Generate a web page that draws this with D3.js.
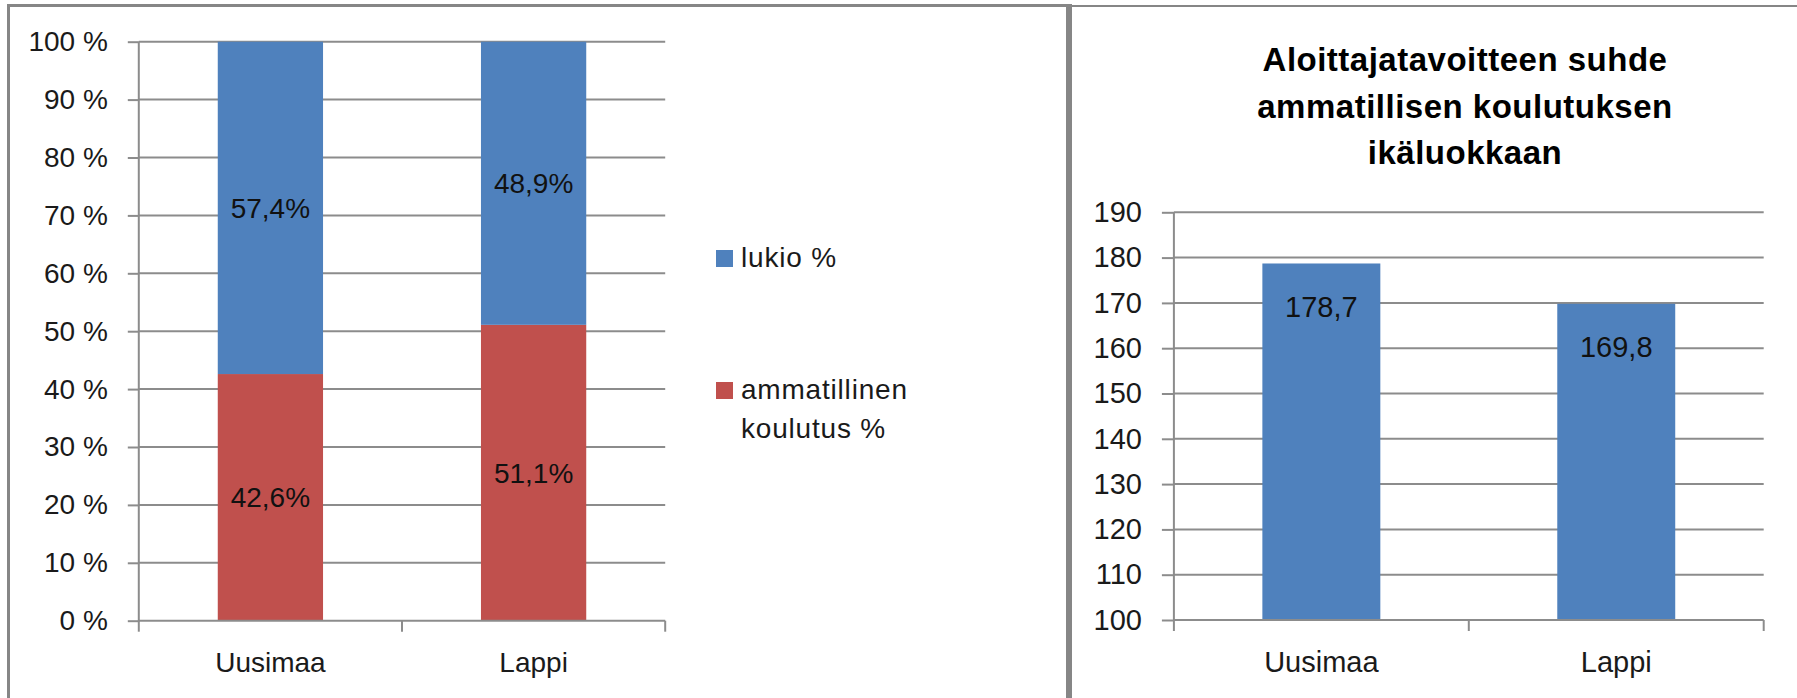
<!DOCTYPE html>
<html lang="fi">
<head>
<meta charset="utf-8">
<script src="https://cdn.jsdelivr.net/npm/d3@7"></script>
<style>
    body { margin: 0; background: #fff; }
    svg { font-family: "Liberation Sans", Arial, sans-serif; }
    .axis text { fill: #1a1a1a; }
    .axis path, .axis line { stroke: #8c8c8c; stroke-width: 2; }
</style>
</head>
<body>
<script>
    // data
    const regions = ["Uusimaa", "Lappi"];
    const lukio = [57.4, 48.9];
    const ammatillinen = [42.6, 51.1];
    const pctTicks = [0, 10, 20, 30, 40, 50, 60, 70, 80, 90, 100];
    const legendLabels = ["lukio %", "ammatillinen", "koulutus %"];

    const aloittajat = [178.7, 169.8];
    const ratioTicks = [100, 110, 120, 130, 140, 150, 160, 170, 180, 190];
    const titleLines = ["Aloittajatavoitteen suhde", "ammatillisen koulutuksen", "ikäluokkaan"];

    const blue = "#4f81bd";
    const red = "#c0504d";
    const grid = "#8c8c8c";
    const frame = "#868686";

    let w = 1797, h = 698;
    let svg = d3.select("body").append("svg")
        .attr("width", w)
        .attr("height", h);

    // panel frames
    svg.append("rect").attr("x", 7).attr("y", 4).attr("width", 1063).attr("height", 3).attr("fill", frame);
    svg.append("rect").attr("x", 7).attr("y", 4).attr("width", 3).attr("height", h).attr("fill", frame);
    svg.append("rect").attr("x", 1066).attr("y", 4).attr("width", 6).attr("height", h).attr("fill", frame);
    svg.append("rect").attr("x", 1072).attr("y", 5).attr("width", w - 1072).attr("height", 2).attr("fill", frame);

    function fmt(v) { return v.toFixed(1).replace(".", ","); }

    function boundTicks(g, a, b) {
        g.selectAll(".bound")
            .data([a, (a + b) / 2, b])
            .enter()
            .append("line")
            .attr("x1", (d) => d).attr("x2", (d) => d)
            .attr("y1", 0).attr("y2", 11)
            .attr("stroke", grid).attr("stroke-width", 2);
    }

    // ---------- left: stacked 100 % chart ----------
    let L = { x0: 138.8, x1: 665.2, y0: 620.7, y1: 41.7 };
    let x1 = d3.scaleBand().domain(regions).range([L.x0, L.x1]).paddingInner(0.6).paddingOuter(0.3);
    let y1 = d3.scaleLinear().domain([0, 100]).range([L.y0, L.y1]);

    let g1 = svg.append("g");

    g1.append("g")
        .selectAll("line")
        .data(pctTicks.slice(1))
        .enter()
        .append("line")
        .attr("x1", L.x0).attr("x2", L.x1)
        .attr("y1", (d) => y1(d)).attr("y2", (d) => y1(d))
        .attr("stroke", grid).attr("stroke-width", 2);

    let stacked = regions.map((r, i) => ({ region: r, amm: ammatillinen[i], luk: lukio[i] }));

    g1.selectAll("rect.amm")
        .data(stacked)
        .enter()
        .append("rect")
        .attr("x", (d) => x1(d.region))
        .attr("width", x1.bandwidth())
        .attr("y", (d) => y1(d.amm))
        .attr("height", (d) => y1(0) - y1(d.amm))
        .attr("fill", red);

    g1.selectAll("rect.luk")
        .data(stacked)
        .enter()
        .append("rect")
        .attr("x", (d) => x1(d.region))
        .attr("width", x1.bandwidth())
        .attr("y", (d) => y1(d.amm + d.luk))
        .attr("height", (d) => y1(d.amm) - y1(d.amm + d.luk))
        .attr("fill", blue);

    let yAxis1 = d3.axisLeft(y1).tickValues(pctTicks).tickSize(11).tickPadding(20)
        .tickFormat((d) => d + " %");
    g1.append("g").attr("class", "axis")
        .attr("transform", "translate(" + L.x0 + ",0)")
        .style("font-size", "28px")
        .call(yAxis1)
        .call((g) => g.select(".domain").attr("d", "M0," + L.y1 + "V" + (L.y0 + 1)));

    let xAxis1 = d3.axisBottom(x1).tickSize(0).tickPadding(31);
    let xg1 = g1.append("g").attr("class", "axis")
        .attr("transform", "translate(0," + L.y0 + ")")
        .style("font-size", "28px")
        .call(xAxis1);
    xg1.select(".domain").attr("d", "M" + L.x0 + ",0H" + L.x1);
    boundTicks(xg1, L.x0, L.x1);

    // data labels in segments
    g1.selectAll("text.la")
        .data(stacked)
        .enter()
        .append("text")
        .attr("x", (d) => x1(d.region) + x1.bandwidth() / 2)
        .attr("y", (d) => y1(d.amm / 2))
        .attr("dy", "0.35em")
        .attr("text-anchor", "middle")
        .attr("font-size", 28)
        .attr("fill", "#111")
        .text((d) => fmt(d.amm) + "%");

    g1.selectAll("text.lb")
        .data(stacked)
        .enter()
        .append("text")
        .attr("x", (d) => x1(d.region) + x1.bandwidth() / 2)
        .attr("y", (d) => y1(d.amm + d.luk / 2))
        .attr("dy", "0.35em")
        .attr("text-anchor", "middle")
        .attr("font-size", 28)
        .attr("fill", "#111")
        .text((d) => fmt(d.luk) + "%");

    // legend
    let leg = svg.append("g").attr("font-size", 28).attr("letter-spacing", 0.8).attr("fill", "#1a1a1a");
    leg.append("rect").attr("x", 716).attr("y", 250).attr("width", 17).attr("height", 17).attr("fill", blue);
    leg.append("text").attr("x", 741).attr("y", 267).text(legendLabels[0]);
    leg.append("rect").attr("x", 716).attr("y", 382).attr("width", 17).attr("height", 17).attr("fill", red);
    let lt = leg.append("text").attr("x", 741).attr("y", 399);
    lt.append("tspan").attr("x", 741).text(legendLabels[1]);
    lt.append("tspan").attr("x", 741).attr("dy", 39).text(legendLabels[2]);

    // ---------- right: simple bar chart ----------
    let R = { x0: 1173.9, x1: 1763.7, y0: 620, y1: 212.3 };
    let x2 = d3.scaleBand().domain(regions).range([R.x0, R.x1]).paddingInner(0.6).paddingOuter(0.3);
    let y2 = d3.scaleLinear().domain([100, 190]).range([R.y0, R.y1]);

    let g2 = svg.append("g");

    g2.append("g")
        .selectAll("line")
        .data(ratioTicks.slice(1))
        .enter()
        .append("line")
        .attr("x1", R.x0).attr("x2", R.x1)
        .attr("y1", (d) => y2(d)).attr("y2", (d) => y2(d))
        .attr("stroke", grid).attr("stroke-width", 2);

    let bars = regions.map((r, i) => ({ region: r, v: aloittajat[i] }));

    g2.selectAll("rect")
        .data(bars)
        .enter()
        .append("rect")
        .attr("x", (d) => x2(d.region))
        .attr("width", x2.bandwidth())
        .attr("y", (d) => y2(d.v))
        .attr("height", (d) => y2(100) - y2(d.v))
        .attr("fill", blue);

    let yAxis2 = d3.axisLeft(y2).tickValues(ratioTicks).tickSize(12).tickPadding(20);
    g2.append("g").attr("class", "axis")
        .attr("transform", "translate(" + R.x0 + ",0)")
        .style("font-size", "29px")
        .call(yAxis2)
        .call((g) => g.select(".domain").attr("d", "M0," + R.y1 + "V" + (R.y0 + 1)));

    let xAxis2 = d3.axisBottom(x2).tickSize(0).tickPadding(31);
    let xg2 = g2.append("g").attr("class", "axis")
        .attr("transform", "translate(0," + R.y0 + ")")
        .style("font-size", "29px")
        .call(xAxis2);
    xg2.select(".domain").attr("d", "M" + R.x0 + ",0H" + R.x1);
    boundTicks(xg2, R.x0, R.x1);

    g2.selectAll("text.val")
        .data(bars)
        .enter()
        .append("text")
        .attr("x", (d) => x2(d.region) + x2.bandwidth() / 2)
        .attr("y", (d) => y2(d.v) + 43)
        .attr("dy", "0.35em")
        .attr("text-anchor", "middle")
        .attr("font-size", 29)
        .attr("fill", "#111")
        .text((d) => fmt(d.v));

    svg.append("text")
        .attr("text-anchor", "middle")
        .attr("font-size", 33)
        .attr("font-weight", "bold")
        .attr("letter-spacing", 0.5)
        .attr("fill", "#000")
        .selectAll("tspan")
        .data(titleLines)
        .enter()
        .append("tspan")
        .attr("x", 1465)
        .attr("y", (d, i) => 71 + i * 46.5)
        .text((d) => d);
</script>
</body>
</html>
